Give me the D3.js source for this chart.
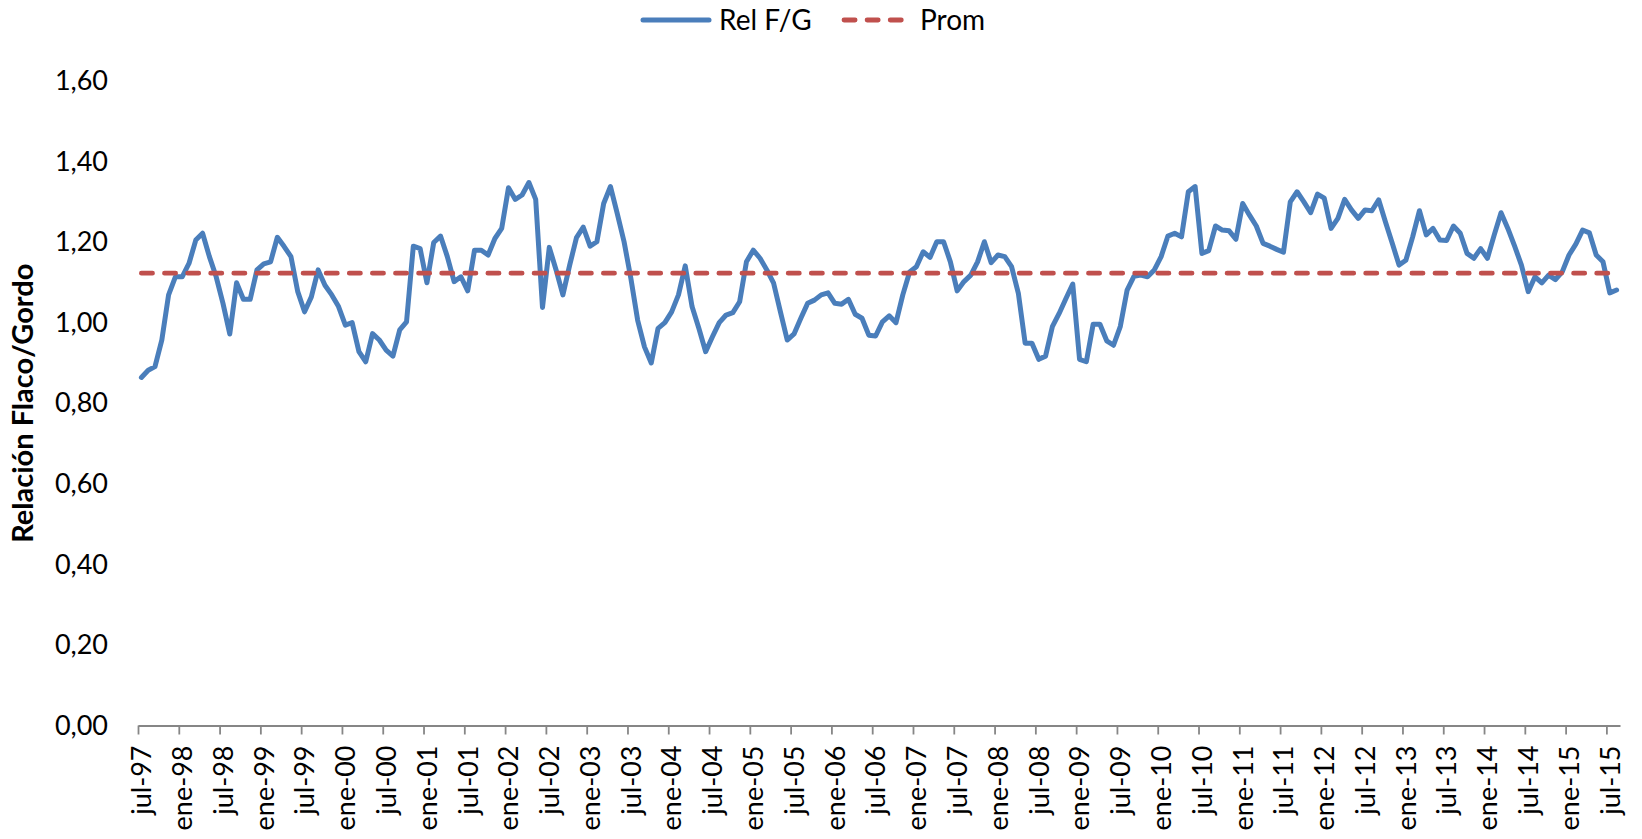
<!DOCTYPE html>
<html>
<head>
<meta charset="utf-8">
<script src="https://cdn.jsdelivr.net/npm/d3@7"></script>
<style>
  html, body { margin: 0; padding: 0; background: #ffffff; }
  svg { display: block; }
  text { font-family: Lato, "Open Sans", sans-serif; fill: #000; }
</style>
</head>
<body>
<svg id="chart" width="1642" height="839"></svg>
<script>
// ---- Data ----
const seriesName = "Rel F/G";
const promName = "Prom";
const startYear = 1997, startMonth = 6; // jul-97 (0-based month)
const relFG = [
  0.864,0.882,0.891,0.957,1.069,1.114,1.114,1.147,1.205,1.222,
  1.164,1.114,1.048,0.972,1.099,1.058,1.058,1.131,1.146,1.151,
  1.212,1.189,1.164,1.077,1.027,1.064,1.131,1.093,1.069,1.040,
  0.994,1.000,0.928,0.903,0.973,0.957,0.932,0.917,0.982,1.002,
  1.190,1.184,1.099,1.199,1.215,1.164,1.102,1.114,1.079,1.180,
  1.180,1.168,1.209,1.234,1.335,1.306,1.317,1.348,1.306,1.038,
  1.187,1.131,1.069,1.143,1.211,1.237,1.190,1.201,1.296,1.338,
  1.271,1.201,1.110,1.006,0.940,0.900,0.986,1.000,1.027,1.069,
  1.141,1.040,0.986,0.928,0.965,1.000,1.019,1.025,1.052,1.151,
  1.180,1.160,1.131,1.098,1.027,0.957,0.972,1.011,1.048,1.056,
  1.069,1.074,1.048,1.046,1.058,1.021,1.011,0.969,0.967,1.002,
  1.017,1.000,1.069,1.126,1.139,1.176,1.162,1.201,1.201,1.151,
  1.079,1.102,1.118,1.151,1.201,1.149,1.168,1.164,1.139,1.073,
  0.949,0.949,0.909,0.917,0.990,1.023,1.060,1.096,0.909,0.903,
  0.996,0.996,0.955,0.944,0.991,1.081,1.115,1.118,1.114,1.131,
  1.164,1.215,1.222,1.213,1.325,1.338,1.172,1.179,1.240,1.230,
  1.228,1.207,1.296,1.267,1.240,1.197,1.190,1.182,1.175,1.300,
  1.325,1.300,1.273,1.319,1.309,1.234,1.259,1.306,1.280,1.259,
  1.280,1.278,1.305,1.250,1.197,1.143,1.155,1.213,1.278,1.218,
  1.234,1.205,1.204,1.240,1.222,1.172,1.160,1.184,1.160,1.218,
  1.273,1.234,1.190,1.143,1.077,1.114,1.099,1.118,1.107,1.126,
  1.168,1.195,1.230,1.223,1.168,1.151,1.074,1.081
];
const promValue = [1.123];
const xTickLabels = [
  "jul-97","ene-98","jul-98","ene-99","jul-99","ene-00","jul-00","ene-01","jul-01",
  "ene-02","jul-02","ene-03","jul-03","ene-04","jul-04","ene-05","jul-05","ene-06",
  "jul-06","ene-07","jul-07","ene-08","jul-08","ene-09","jul-09","ene-10","jul-10",
  "ene-11","jul-11","ene-12","jul-12","ene-13","jul-13","ene-14","jul-14","ene-15","jul-15"
];
const yTickValues = [0, 0.2, 0.4, 0.6, 0.8, 1.0, 1.2, 1.4, 1.6];
const yTitle = "Relación Flaco/Gordo";

// ---- Layout ----
const plotLeft = 138, plotRight = 1620, plotTop = 81, plotBottom = 725.5;
const blue = "#4A7EBB", red = "#C0504D", axisGrey = "#868686";

const svg = d3.select("#chart");
const n = relFG.length;
const categories = relFG.map((_, i) => new Date(startYear, startMonth + i, 1));

const x = d3.scaleLinear().domain([-0.5, n - 0.5]).range([plotLeft, plotRight]);
const y = d3.scaleLinear().domain([0, 1.6]).range([plotBottom, plotTop]);

const commaFmt = d3.formatLocale({decimal: ",", thousands: ".", grouping: [3], currency: ["", "€"]}).format(".2f");

// Y axis (labels only)
const yAxis = svg.append("g")
  .attr("transform", `translate(${plotLeft},0)`)
  .call(d3.axisLeft(y).tickValues(yTickValues).tickFormat(commaFmt).tickSize(0).tickPadding(30));
yAxis.select(".domain").remove();
yAxis.selectAll("text").style("font-family", "Lato").style("font-size", "27px").attr("fill", "#000");

// X axis
const xTickPos = xTickLabels.map((_, k) => k * 6 - 0.5);
const xAxis = svg.append("g")
  .attr("transform", `translate(0,${plotBottom})`)
  .call(d3.axisBottom(x).tickValues(xTickPos)
    .tickFormat((d, k) => xTickLabels[k]).tickSizeInner(9).tickSizeOuter(0));
xAxis.select(".domain").attr("stroke", axisGrey).attr("stroke-width", 1.8);
xAxis.selectAll(".tick line").attr("stroke", axisGrey).attr("stroke-width", 1.8);
xAxis.selectAll(".tick text")
  .style("font-family", "Lato").style("font-size", "27px").attr("fill", "#000")
  .attr("text-anchor", "end")
  .attr("x", 0).attr("y", 0).attr("dy", "0.36em")
  .attr("transform", "translate(3,20) rotate(-90)");

// Y title
svg.append("text")
  .attr("transform", `translate(23,${(plotTop + plotBottom) / 2}) rotate(-90)`)
  .attr("text-anchor", "middle").attr("dy", "0.36em")
  .style("font-family", "Lato").style("font-size", "29px").style("font-weight", "bold")
  .text(yTitle);

// Series line
const line = d3.line().x((d, i) => x(i)).y(d => y(d));
svg.append("path")
  .datum(relFG)
  .attr("fill", "none").attr("stroke", blue).attr("stroke-width", 5)
  .attr("stroke-linejoin", "round").attr("stroke-linecap", "round")
  .attr("d", line);

// Average line
const promSeries = categories.map(() => promValue[0]);
svg.append("path")
  .datum(promSeries)
  .attr("fill", "none").attr("stroke", red).attr("stroke-width", 4.8)
  .attr("stroke-linecap", "round").attr("stroke-dasharray", "11.1,12")
  .attr("d", line);

// Legend
const lg = svg.append("g");
lg.append("line").attr("x1", 643).attr("x2", 709).attr("y1", 20).attr("y2", 20)
  .attr("stroke", blue).attr("stroke-width", 5).attr("stroke-linecap", "round");
lg.append("text").attr("x", 719).attr("y", 20).attr("dy", "0.36em")
  .style("font-size", "28px").text(seriesName);
lg.append("line").attr("x1", 844).attr("x2", 904).attr("y1", 20).attr("y2", 20)
  .attr("stroke", red).attr("stroke-width", 4.8).attr("stroke-linecap", "round")
  .attr("stroke-dasharray", "11.1,12");
lg.append("text").attr("x", 920).attr("y", 20).attr("dy", "0.36em")
  .style("font-size", "28px").text(promName);
</script>
</body>
</html>
